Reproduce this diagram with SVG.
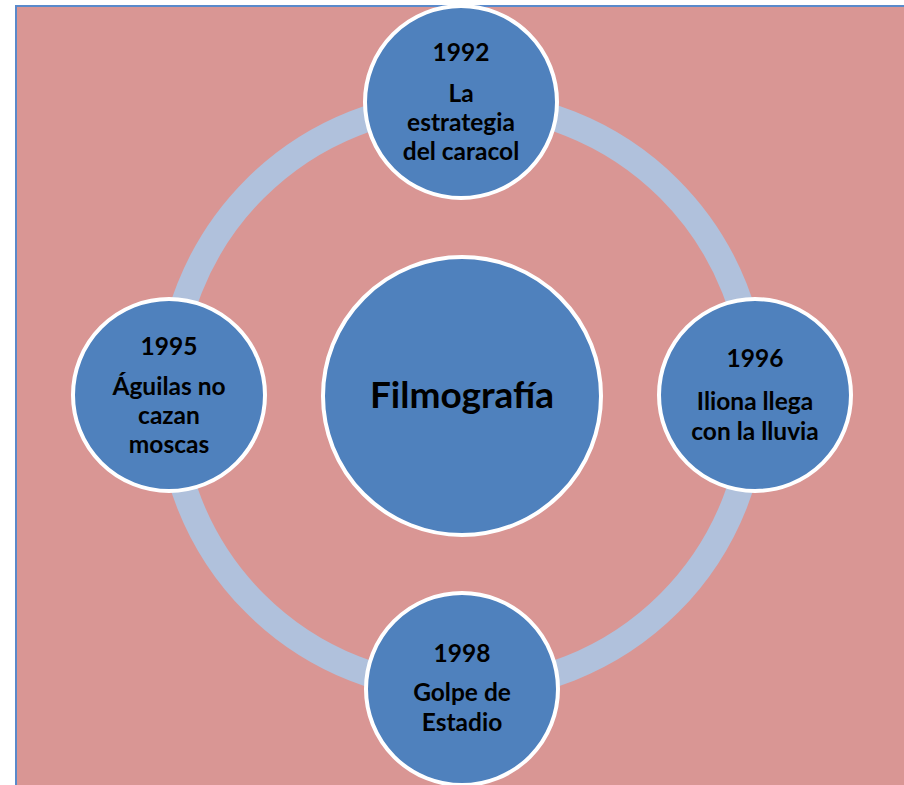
<svg xmlns="http://www.w3.org/2000/svg" width="904" height="785" viewBox="0 0 904 785">
  <style>
    .node { fill: #4F81BD; stroke: #FFFFFF; stroke-width: 4; }
    .lbl { font-family: Lato, "Liberation Sans", sans-serif; font-weight: bold; font-size: 24.5px; fill: #000000; text-anchor: middle; }
    .title { font-family: Lato, "Liberation Sans", sans-serif; font-weight: bold; font-size: 37px; fill: #000000; text-anchor: middle; }
  </style>
  <rect x="0" y="0" width="904" height="785" fill="#FFFFFF"/>
  <rect x="16" y="6" width="890" height="781" fill="#D99694" stroke="#5A8ACB" stroke-width="2"/>
  <g id="connectors">
    <circle cx="462" cy="396" r="293" fill="none" stroke="#B0C1DC" stroke-width="26"/>
  </g>
  <g id="center">
    <circle class="node" cx="462" cy="396" r="139"/>
    <text class="title" x="462" y="408">Filmografía</text>
  </g>
  <g id="n1992">
    <circle class="node" cx="461" cy="102" r="96"/>
    <text class="lbl" x="461" y="61">1992</text>
    <text class="lbl" x="461" y="102">La</text>
    <text class="lbl" x="461" y="131">estrategia</text>
    <text class="lbl" x="461" y="160">del caracol</text>
  </g>
  <g id="n1995">
    <circle class="node" cx="169" cy="395" r="96"/>
    <text class="lbl" x="169" y="355">1995</text>
    <text class="lbl" x="169" y="395">Águilas no</text>
    <text class="lbl" x="169" y="424">cazan</text>
    <text class="lbl" x="169" y="453">moscas</text>
  </g>
  <g id="n1996">
    <circle class="node" cx="755" cy="395" r="96"/>
    <text class="lbl" x="755" y="367">1996</text>
    <text class="lbl" x="755" y="410">Iliona llega</text>
    <text class="lbl" x="755" y="440">con la lluvia</text>
  </g>
  <g id="n1998">
    <circle class="node" cx="462" cy="689" r="96"/>
    <text class="lbl" x="462" y="662">1998</text>
    <text class="lbl" x="462" y="701">Golpe de</text>
    <text class="lbl" x="462" y="731">Estadio</text>
  </g>
</svg>
